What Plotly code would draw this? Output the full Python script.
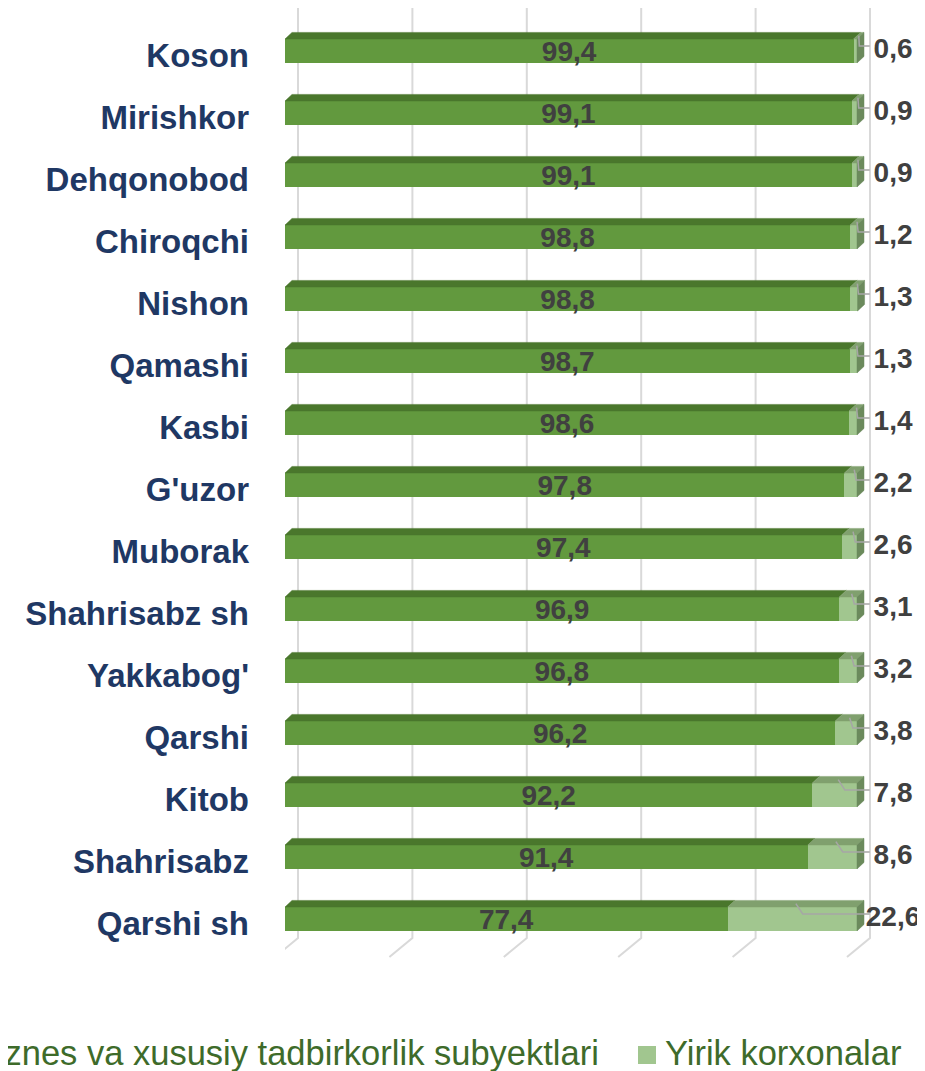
import plotly.graph_objects as go

# districts, top to bottom
districts = ["Koson", "Mirishkor", "Dehqonobod", "Chiroqchi", "Nishon", "Qamashi",
             "Kasbi", "G'uzor", "Muborak", "Shahrisabz sh", "Yakkabog'", "Qarshi",
             "Kitob", "Shahrisabz", "Qarshi sh"]
small_biz = [99.4, 99.1, 99.1, 98.8, 98.8, 98.7, 98.6, 97.8, 97.4, 96.9, 96.8, 96.2,
             92.2, 91.4, 77.4]
large_ent = [0.6, 0.9, 0.9, 1.2, 1.3, 1.3, 1.4, 2.2, 2.6, 3.1, 3.2, 3.8, 7.8, 8.6, 22.6]
grid_ticks = [0, 20, 40, 60, 80, 100]
series_names = ["Kichik biznes va xususiy tadbirkorlik subyektlari", "Yirik korxonalar"]

DARK = "#62993E"
DARK_TOP = "#4A772C"
LIGHT = "#A1C68F"
LIGHT_TOP = "#80A06E"
SIDE = "#6B8A5C"
LABEL_COLOR = "#404040"

OFF = 8                          # page body margin
W, H = 925 - OFF, 1071 - OFF
ML, MT, MB = 285 - OFF, 0, 100
PX_X = 5.72                      # px per percent
XMAX = (W - ML) / PX_X
PX_Y = 62.0                      # px per row
PLOT_H = H - MT - MB
Y0 = -(51 - OFF) / PX_Y          # top of plot area in row units
Y1 = Y0 + PLOT_H / PX_Y

BAR_W = 24 / PX_Y                # front face thickness
DX, DY = 7 / PX_X, 6.6 / PX_Y    # 3d depth of bars
GDX = 13 / PX_X                  # back wall offset of grid


def paper_x(page_px):
    return (page_px - OFF - ML) / (W - ML)


def paper_y(page_px):
    return (MT + PLOT_H - (page_px - OFF)) / PLOT_H


def row_y(page_px):
    return Y0 + (page_px - OFF - MT) / PX_Y


rows = list(range(len(districts)))
fig = go.Figure()

# back wall + floor grid lines
for v in grid_ticks:
    xb = v + GDX
    fig.add_shape(type="path", layer="below", xref="x", yref="y",
                  path=f"M{xb},{row_y(8)} L{xb},{row_y(938)} L{xb - 23 / PX_X},{row_y(957)}",
                  line=dict(color="#D9D9D9", width=2))

fig.add_trace(go.Bar(
    y=rows, x=small_biz, orientation="h", width=BAR_W, name=series_names[0],
    marker=dict(color=DARK, line=dict(width=0)),
    texttemplate="<b>%{x:.1f}</b>", textposition="inside", insidetextanchor="middle",
    textangle=0, constraintext="none",
    textfont=dict(family="Liberation Sans, Arial", size=28, color=LABEL_COLOR),
    showlegend=False, hoverinfo="skip",
))
fig.add_trace(go.Bar(
    y=rows, x=large_ent, orientation="h", width=BAR_W, name=series_names[1],
    marker=dict(color=LIGHT, line=dict(width=0)),
    showlegend=False, hoverinfo="skip",
))


def faces(segments):
    xs, ys = [], []
    for poly in segments:
        for px, py in poly:
            xs.append(px)
            ys.append(py)
        xs.append(poly[0][0])
        ys.append(poly[0][1])
        xs.append(None)
        ys.append(None)
    return xs, ys


dark_top, light_top, side = [], [], []
for i, a, b in zip(rows, small_biz, large_ent):
    yt = i - BAR_W / 2
    yb = i + BAR_W / 2
    dark_top.append([(0, yt), (a, yt), (a + DX, yt - DY), (DX, yt - DY)])
    light_top.append([(a, yt), (a + b, yt), (a + b + DX, yt - DY), (a + DX, yt - DY)])
    end = a + b
    side.append([(end, yt), (end + DX, yt - DY), (end + DX, yb - DY), (end, yb)])

for segs, col in [(dark_top, DARK_TOP), (light_top, LIGHT_TOP), (side, SIDE)]:
    xs, ys = faces(segs)
    fig.add_trace(go.Scatter(x=xs, y=ys, mode="lines", fill="toself", fillcolor=col,
                             line=dict(color=col, width=0.5), showlegend=False,
                             hoverinfo="skip"))

# leader lines for the small segment labels
lx, ly = [], []
for i, a, b in zip(rows, small_biz, large_ent):
    yt = i - BAR_W / 2
    mid = a + b / 2 + DX / 2
    lx += [mid, mid + min(b, 8) * 0.15, 100 + DX + 1.0, None]
    ly += [yt - DY / 2, i - 0.08, i - 0.08, None]
fig.add_trace(go.Scatter(x=lx, y=ly, mode="lines", line=dict(color="#A6A6A6", width=1.5),
                         showlegend=False, hoverinfo="skip"))

fig.add_trace(go.Scatter(
    x=[106.3] * len(rows), y=rows, mode="text", customdata=large_ent,
    texttemplate="<b>%{customdata:.1f}</b>", textposition="middle center",
    textfont=dict(family="Liberation Sans, Arial", size=28, color=LABEL_COLOR),
    showlegend=False, hoverinfo="skip", cliponaxis=False,
))

# legend (first entry runs off the left edge, as in the source)
LEG_FONT = dict(family="Liberation Sans, Arial", size=34.5, color="#3E6B2A")
fig.add_annotation(xref="paper", yref="paper", x=paper_x(601), y=paper_y(1053),
                   xanchor="right", yanchor="middle", showarrow=False,
                   text=series_names[0], font=LEG_FONT)
fig.add_annotation(xref="paper", yref="paper", x=paper_x(663), y=paper_y(1053),
                   xanchor="left", yanchor="middle", showarrow=False,
                   text=series_names[1], font=LEG_FONT)
fig.add_shape(type="rect", xref="paper", yref="paper", line=dict(width=0),
              fillcolor=LIGHT, x0=paper_x(638), x1=paper_x(656),
              y0=paper_y(1064), y1=paper_y(1046))

fig.update_layout(
    width=W, height=H, barmode="stack", separators=",.",
    margin=dict(l=ML, r=0, t=MT, b=MB, pad=0),
    paper_bgcolor="white", plot_bgcolor="white",
    xaxis=dict(range=[0, XMAX], visible=False, fixedrange=True),
    yaxis=dict(range=[Y1, Y0], tickvals=rows, ticktext=districts, showgrid=False,
               zeroline=False, ticks="", showline=False, automargin=False,
               ticklabelstandoff=35, ticklabelshift=-4,
               tickfont=dict(family="Liberation Sans, Arial", size=33, color="#1F3864",
                             weight="bold")),
)

fig.write_html("out.html")
